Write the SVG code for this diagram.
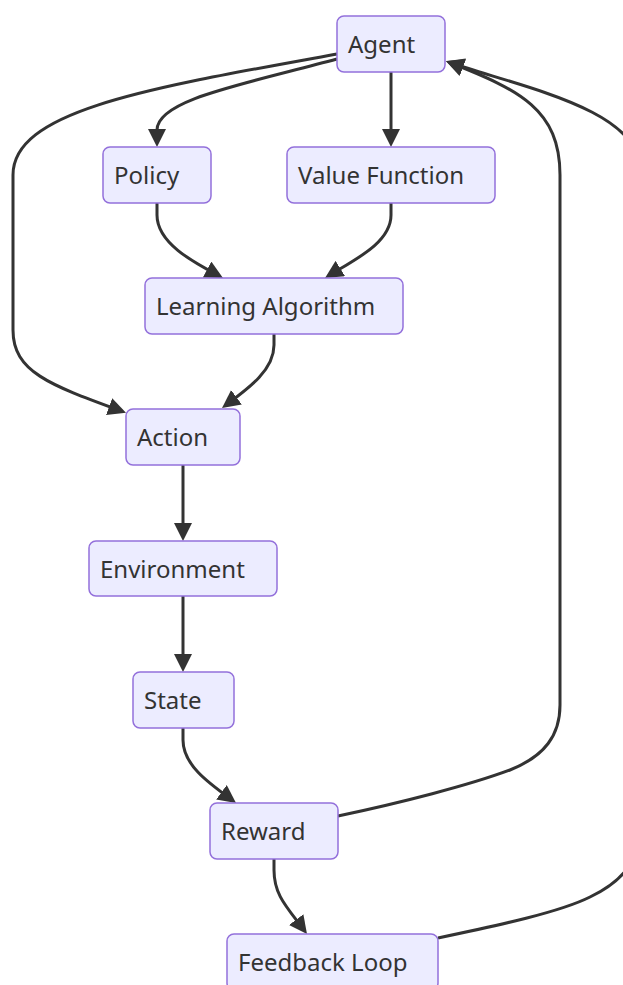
<svg xmlns="http://www.w3.org/2000/svg" width="623" height="985" viewBox="0 0 623 985">
<style>
.node rect{fill:#ECECFF;stroke:#9370DB;stroke-width:1.5}
.node text{font-family:"Noto Sans","Open Sans",sans-serif;font-size:24px;fill:#333}
.edge{fill:none;stroke:#333;stroke-width:3;marker-end:url(#arrow)}
</style>
<defs>
<marker id="arrow" viewBox="0 0 10 10" refX="7.8" refY="5" markerUnits="userSpaceOnUse" markerWidth="18" markerHeight="18" orient="auto">
<path d="M0,0 L10,5 L0,10 z" fill="#333"/>
</marker>
</defs>
<rect width="623" height="985" fill="#fff"/>
<g id="connectors">
<path class="edge" d="M337,59 C240,85 157,100 157,130 L157,143"/>
<path class="edge" d="M337,54 C150,88 13,110 13,175 L13,330 C13,372 50,385 122.3,411.4"/>
<path class="edge" d="M391,72 L391,143"/>
<path class="edge" d="M157,203 L157,215 C157,243 193,262 219.5,276.1"/>
<path class="edge" d="M391,203 L391,215 C391,243 354,260 328.4,275.9"/>
<path class="edge" d="M274,334 L274,345 C274,370 249,388 225.2,405.6"/>
<path class="edge" d="M183,465 L183,537"/>
<path class="edge" d="M183,596 L183,668"/>
<path class="edge" d="M183,728 L183,740 C183,765 208.5,782.9 232.8,800.6"/>
<path class="edge" d="M338,816 C400,803 470,785 510,770 C545,756 560,735 560,705 L560,175 C560,110 520,90 449.7,62.5"/>
<path class="edge" d="M274,859 L274,870 C274,895 286.6,906.8 304.6,930.8"/>
<path class="edge" d="M438,938 C500,925 560,912 590,897 C625,880 640,860 640,820 L640,170 C640,110 525,88 449.7,62.5"/>
</g>
<g id="agent" class="node"><rect x="337" y="16" width="108" height="56" rx="7"/><text x="348" y="53">Agent</text></g>
<g id="policy" class="node"><rect x="103" y="147" width="108" height="56" rx="7"/><text x="114" y="184">Policy</text></g>
<g id="value-function" class="node"><rect x="287" y="147" width="208" height="56" rx="7"/><text x="298" y="184">Value Function</text></g>
<g id="learning-algorithm" class="node"><rect x="145" y="278" width="258" height="56" rx="7"/><text x="156" y="315">Learning Algorithm</text></g>
<g id="action" class="node"><rect x="126" y="409" width="114" height="56" rx="7"/><text x="137" y="446">Action</text></g>
<g id="environment" class="node"><rect x="89" y="541" width="188" height="55" rx="7"/><text x="100" y="578">Environment</text></g>
<g id="state" class="node"><rect x="133" y="672" width="101" height="56" rx="7"/><text x="144" y="709">State</text></g>
<g id="reward" class="node"><rect x="210" y="803" width="128" height="56" rx="7"/><text x="221" y="840">Reward</text></g>
<g id="feedback-loop" class="node"><rect x="227" y="934" width="211" height="56" rx="7"/><text x="238" y="971">Feedback Loop</text></g>
</svg>
